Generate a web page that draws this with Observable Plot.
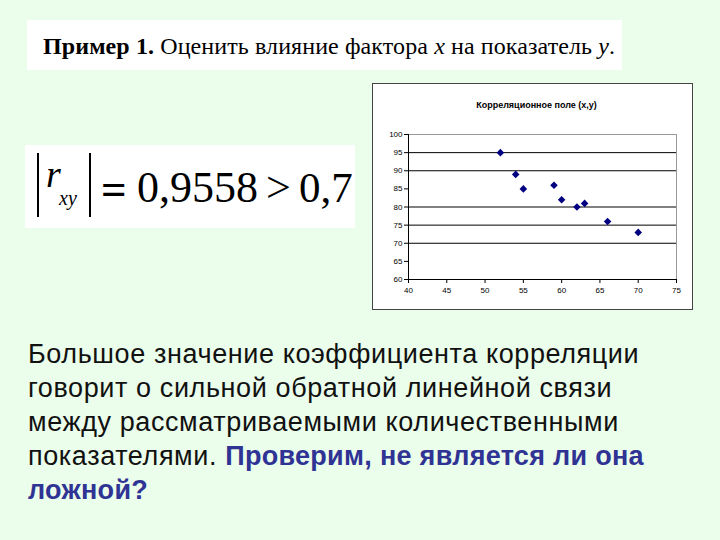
<!DOCTYPE html>
<html><head><meta charset="utf-8">
<script src="https://cdn.jsdelivr.net/npm/d3@7"></script>
<script src="https://cdn.jsdelivr.net/npm/@observablehq/plot@0.6"></script>
<style>
html,body{margin:0;padding:0;}
body{width:720px;height:540px;background:#ebfdeb;position:relative;overflow:hidden;}
.box{position:absolute;background:#fff;}
#title{left:27px;top:20px;width:595px;height:50px;font-family:"Liberation Serif","Times New Roman",serif;font-size:24px;line-height:50px;white-space:nowrap;color:#000;}
#title span.t{position:absolute;left:16px;top:1px;letter-spacing:0.1px;}
#formula{left:25px;top:145px;width:330px;height:83px;font-family:"Liberation Serif","Times New Roman",serif;color:#000;}
#formula div{position:absolute;white-space:nowrap;line-height:1;}
#panel{left:372px;top:83px;width:319px;height:225px;border:1px solid #444;}
#ctitle{height:34px;line-height:42px;text-align:center;font-family:"Liberation Sans",Arial,sans-serif;font-weight:bold;font-size:9px;color:#000;padding-left:8px;}
#body{position:absolute;left:28px;top:337px;width:690px;font-family:"Liberation Sans",Arial,sans-serif;font-size:27px;line-height:34px;color:#111;white-space:nowrap;letter-spacing:0.6px;}
#body b{color:#2f3394;letter-spacing:0.3px;}
</style></head>
<body>
<div id="title" class="box"><span class="t"><b>Пример 1.</b> Оценить влияние фактора <i>x</i> на показатель <i>y</i>.</span></div>
<div id="formula" class="box">
  <div style="left:12px;top:8px;width:2px;height:64px;background:#000;"></div>
  <div style="left:21px;top:10px;font-size:38px;font-style:italic;">r</div>
  <div style="left:34px;top:43px;font-size:20px;font-style:italic;">xy</div>
  <div style="left:64px;top:8px;width:2px;height:64px;background:#000;"></div>
  <div style="left:76px;top:22px;font-size:45px;font-weight:bold;">=</div>
  <div style="left:112px;top:21px;font-size:44px;">0,9558</div>
  <div style="left:241px;top:21px;font-size:44px;">&gt;</div>
  <div style="left:274px;top:21px;font-size:43px;">0,7</div>
</div>
<div id="panel" class="box"><div id="ctitle">Корреляционное поле (x,y)</div><div id="chart"></div></div>
<div id="body">Большое значение коэффициента корреляции<br>говорит о сильной обратной линейной связи<br>между рассматриваемыми количественными<br>показателями. <b>Проверим, не является ли она<br>ложной?</b></div>
<script>
const xValues = [52, 54, 55, 59, 60, 62, 63, 66, 70];
const yValues = [95, 89, 85, 86, 82, 80, 81, 76, 73];
const xTicks = [40, 45, 50, 55, 60, 65, 70, 75];
const yTicks = [60, 65, 70, 75, 80, 85, 90, 95, 100];
const gridY = [70, 75, 80, 90, 95];

const points = xValues.map((x, i) => ({x, y: yValues[i]}));

const chart = Plot.plot({
  width: 319,
  height: 191,
  marginLeft: 35,
  marginRight: 16,
  marginTop: 16,
  marginBottom: 30,
  style: {background: "#fff", fontFamily: "Liberation Sans, Arial, sans-serif", overflow: "visible"},
  x: {domain: [40, 75], ticks: xTicks, label: null},
  y: {domain: [60, 100], ticks: yTicks, label: null},
  marks: [
    Plot.ruleY(gridY, {stroke: "#000", strokeWidth: 1}),
    Plot.ruleY([100], {stroke: "#999"}),
    Plot.ruleX([75], {stroke: "#999"}),
    Plot.ruleX([40], {stroke: "#000"}),
    Plot.ruleY([60], {stroke: "#000"}),
    Plot.axisY({ticks: yTicks, tickSize: 4, tickPadding: 2, fontSize: 8, stroke: "#000", fill: "#000"}),
    Plot.axisX({ticks: xTicks, tickSize: 4, tickPadding: 4, fontSize: 8, stroke: "#000", fill: "#000"}),
    Plot.dot(points, {x: "x", y: "y", symbol: "diamond2", r: 3.4, fill: "#000080", stroke: "none"})
  ]
});
document.getElementById("chart").appendChild(chart);
</script>
</body></html>
